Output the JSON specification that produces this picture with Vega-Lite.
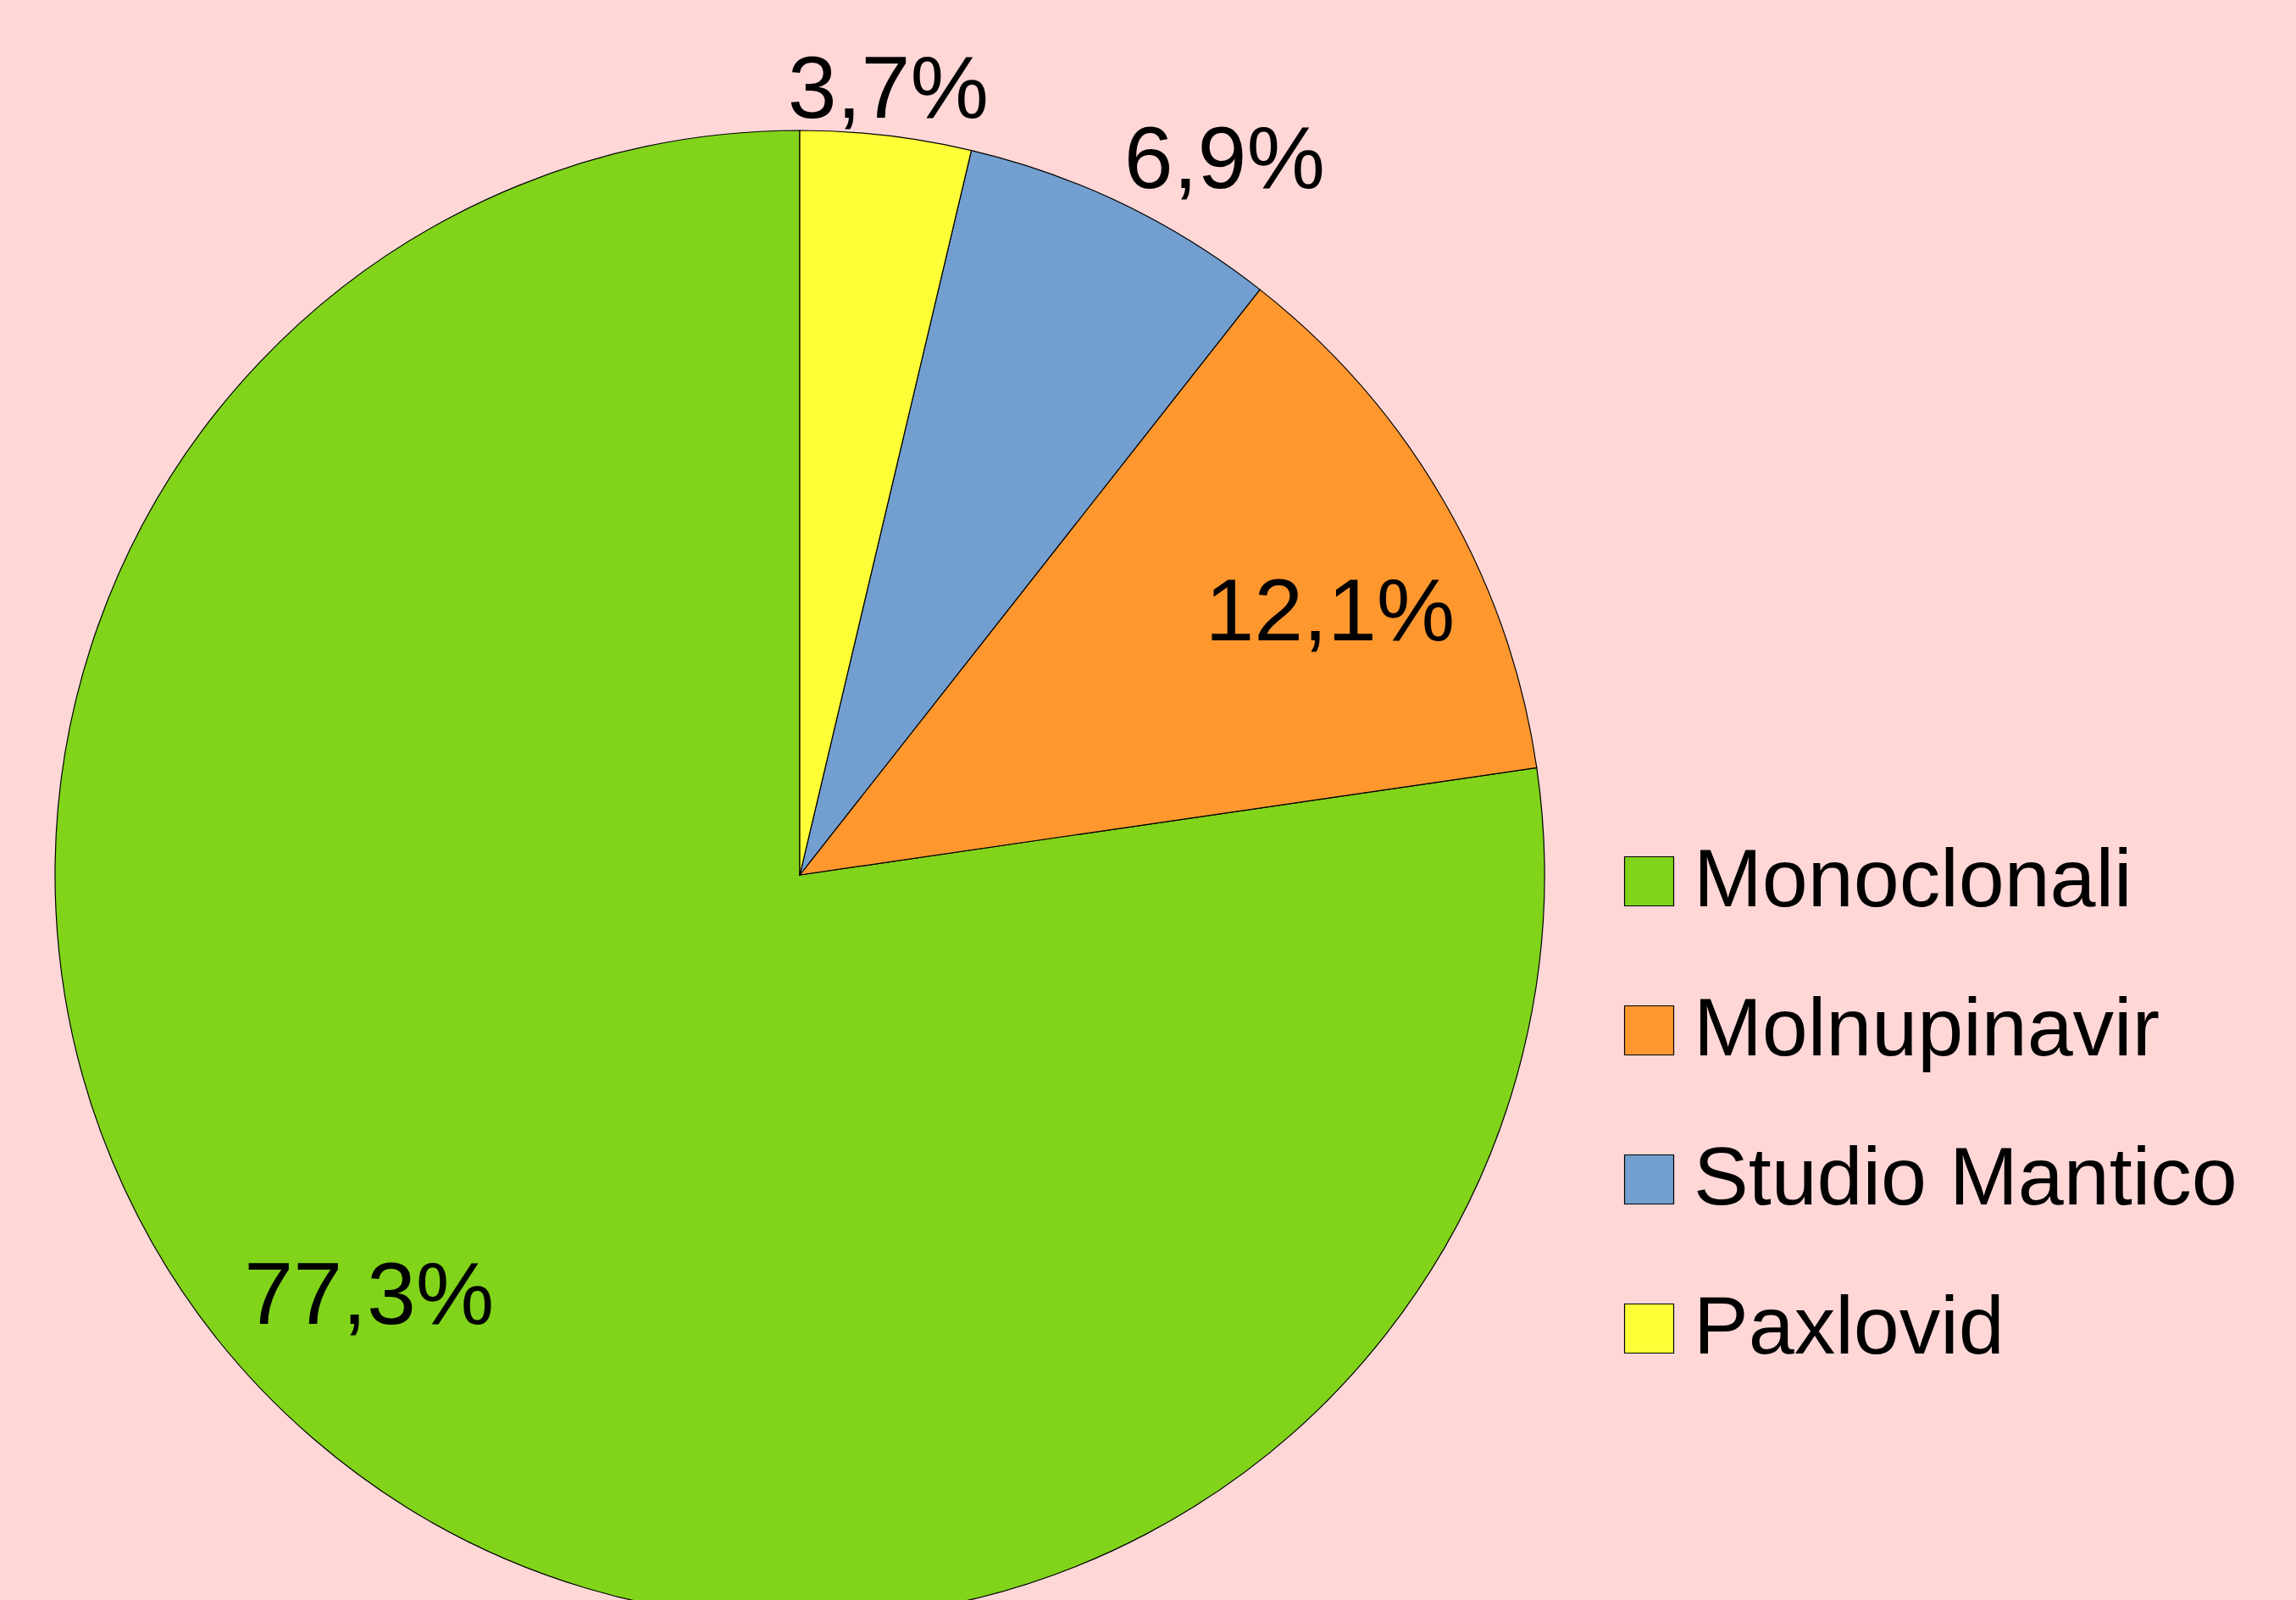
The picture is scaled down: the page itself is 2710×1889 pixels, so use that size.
{
  "$schema": "https://vega.github.io/schema/vega-lite/v6.json",
  "width": 1888,
  "height": 2066,
  "autosize": {"type": "none"},
  "padding": {"left": 0, "top": 0, "right": 822, "bottom": 0},
  "background": "#FFD7D7",
  "config": {"view": {"stroke": null}, "font": "Liberation Sans"},
  "data": {
    "values": [
      {"category": "Monoclonali", "value": 77.3, "label": "77,3%"},
      {"category": "Molnupinavir", "value": 12.1, "label": "12,1%"},
      {"category": "Studio Mantico", "value": 6.9, "label": "6,9%"},
      {"category": "Paxlovid", "value": 3.7, "label": "3,7%"}
    ]
  },
  "encoding": {
    "theta": {"field": "value", "type": "quantitative", "stack": true},
    "order": {"field": "value", "type": "quantitative", "sort": "ascending"}
  },
  "layer": [
    {
      "mark": {"type": "arc", "radius": 879, "stroke": "#000000", "strokeWidth": 1.2},
      "encoding": {
        "color": {
          "field": "category",
          "type": "nominal",
          "scale": {
            "domain": ["Monoclonali", "Molnupinavir", "Studio Mantico", "Paxlovid"],
            "range": ["#81D41A", "#FF972F", "#729FCF", "#FFFF38"]
          },
          "legend": {
            "title": null,
            "orient": "none",
            "legendX": 1898,
            "legendY": 992,
            "symbolType": "square",
            "symbolSize": 3364,
            "symbolStrokeColor": "#000000",
            "symbolStrokeWidth": 1.2,
            "symbolOpacity": 1,
            "labelFontSize": 97,
            "labelFont": "Liberation Sans",
            "labelColor": "#000000",
            "labelOffset": 4,
            "labelLimit": 0,
            "rowPadding": 78,
            "padding": 0
          }
        }
      }
    },
    {
      "mark": {"type": "text", "radius": 900, "align": "center", "baseline": "alphabetic", "fontSize": 104, "font": "Liberation Sans", "color": "#000000"},
      "encoding": {
        "detail": {"field": "category", "type": "nominal"},
        "text": {"condition": {"test": "datum.category === 'Paxlovid'", "field": "label"}, "value": ""}
      }
    },
    {
      "mark": {"type": "text", "radius": 900, "dx": -8, "align": "left", "baseline": "alphabetic", "fontSize": 104, "font": "Liberation Sans", "color": "#000000"},
      "encoding": {
        "detail": {"field": "category", "type": "nominal"},
        "text": {"condition": {"test": "datum.category === 'Studio Mantico'", "field": "label"}, "value": ""}
      }
    },
    {
      "mark": {"type": "text", "radius": 700, "dx": 20, "dy": 74, "align": "center", "baseline": "alphabetic", "fontSize": 104, "font": "Liberation Sans", "color": "#000000"},
      "encoding": {
        "detail": {"field": "category", "type": "nominal"},
        "text": {"condition": {"test": "datum.category === 'Molnupinavir'", "field": "label"}, "value": ""}
      }
    },
    {
      "mark": {"type": "text", "radius": 705, "dx": -47, "dy": -3, "align": "center", "baseline": "alphabetic", "fontSize": 104, "font": "Liberation Sans", "color": "#000000"},
      "encoding": {
        "detail": {"field": "category", "type": "nominal"},
        "text": {"condition": {"test": "datum.category === 'Monoclonali'", "field": "label"}, "value": ""}
      }
    }
  ]
}
